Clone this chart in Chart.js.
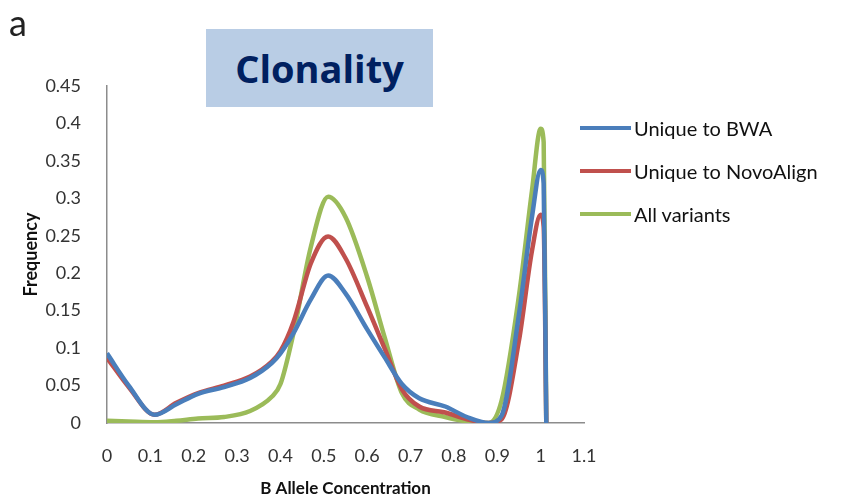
<!DOCTYPE html>
<html lang="en">
<head>
  <meta charset="UTF-8">
  <title>Clonality</title>
  <script src="https://cdn.jsdelivr.net/npm/chart.js"></script>
  <style>
    body {
      margin: 0;
      width: 844px;
      height: 503px;
      background: #fff;
      font-family: Lato, "Open Sans", sans-serif;
      position: relative;
      overflow: hidden;
    }

    #chartBox {
      position: absolute;
      left: 0;
      top: 0;
      width: 844px;
      height: 503px;
    }

    .panel-letter {
      position: absolute;
      left: 9px;
      top: 0px;
      font-size: 36px;
      color: #222;
    }

    .title-box {
      position: absolute;
      left: 206px;
      top: 29px;
      width: 227px;
      height: 78px;
      background: #b9cde5;
      color: #002060;
      font-family: "Open Sans", sans-serif;
      font-weight: bold;
      font-size: 38px;
      line-height: 78px;
      text-align: center;
    }

    .legend {
      position: absolute;
      left: 580px;
      top: 106px;
    }

    .legend-item {
      display: flex;
      align-items: center;
      height: 43px;
      font-size: 20px;
      color: #111;
    }

    .legend-line {
      width: 51px;
      height: 4px;
      margin-right: 3px;
    }
  </style>
</head>
<body>
  <div id="chartBox"><canvas id="clonalityChart" width="844" height="503"></canvas></div>
  <div class="panel-letter">a</div>
  <div class="title-box">Clonality</div>
  <div class="legend" id="legend"></div>

  <script>
    // B allele concentration sample points
    const bac = [0, 0.05, 0.11, 0.16, 0.21, 0.27, 0.33, 0.38, 0.4, 0.43, 0.47, 0.51, 0.55,
      0.6, 0.64, 0.68, 0.72, 0.78, 0.83, 0.88, 0.91, 0.95, 0.98, 1.0, 1.007, 1.013];

    const bwaFreq = [0.093, 0.05, 0.011, 0.025, 0.039, 0.048, 0.06, 0.08, 0.093, 0.12, 0.165, 0.197, 0.173,
      0.125, 0.088, 0.052, 0.033, 0.022, 0.008, 0, 0.01, 0.145, 0.275, 0.338, 0.32, 0];

    const novoFreq = [0.087, 0.048, 0.011, 0.027, 0.04, 0.05, 0.062, 0.082, 0.096, 0.135, 0.213, 0.249, 0.22,
      0.155, 0.1, 0.045, 0.022, 0.014, 0.005, 0, 0.005, 0.11, 0.23, 0.278, 0.262, 0];

    const allFreq = [0.003, 0.002, 0.001, 0.003, 0.006, 0.008, 0.016, 0.035, 0.052, 0.12, 0.235, 0.302, 0.275,
      0.195, 0.115, 0.04, 0.018, 0.008, 0.002, 0, 0.03, 0.17, 0.31, 0.393, 0.375, 0];

    const seriesNames = ['Unique to BWA', 'Unique to NovoAlign', 'All variants'];
    const seriesColors = ['#4a7ebb', '#c0504d', '#9bbb59'];

    const toPoints = ys => bac.map((x, i) => ({ x: x, y: ys[i] }));
    const allSeries = [bwaFreq, novoFreq, allFreq];

    const datasets = allSeries.map((ys, i) => ({
      label: seriesNames[i],
      data: toPoints(ys),
      borderColor: seriesColors[i],
      backgroundColor: seriesColors[i],
      borderWidth: 4.5,
      pointRadius: 0,
      showLine: true,
      fill: false,
      cubicInterpolationMode: 'monotone'
    }));

    // html legend
    const legendEl = document.getElementById('legend');
    seriesNames.forEach((name, i) => {
      const item = document.createElement('div');
      item.className = 'legend-item';
      item.innerHTML = `<span class="legend-line" style="background:${seriesColors[i]}"></span>${name}`;
      legendEl.appendChild(item);
    });

    const fmt = v => String(Number(v.toFixed(2)));
    const tickFont = { family: 'Lato', size: 18 };

    new Chart(document.getElementById('clonalityChart'), {
      type: 'scatter',
      data: { datasets: datasets },
      options: {
        responsive: false,
        animation: false,
        layout: {
          padding: { left: 16, top: 86, right: 260, bottom: 0 }
        },
        plugins: {
          legend: { display: false },
          tooltip: { enabled: false }
        },
        scales: {
          x: {
            type: 'linear',
            min: 0,
            max: 1.1,
            grid: { display: false },
            border: { display: true, color: '#8c8c8c', width: 1.5 },
            ticks: {
              stepSize: 0.1,
              padding: 14,
              color: '#333',
              font: tickFont,
              callback: v => fmt(v)
            },
            title: {
              display: true,
              text: 'B Allele Concentration',
              color: '#111',
              font: { family: 'Lato', size: 17, weight: 'bold' },
              padding: { top: 12 }
            },
            afterFit: scale => { scale.height = 80; }
          },
          y: {
            type: 'linear',
            min: 0,
            max: 0.45,
            grid: { display: false },
            border: { display: true, color: '#8c8c8c', width: 1.5 },
            ticks: {
              stepSize: 0.05,
              padding: 18,
              color: '#333',
              font: tickFont,
              callback: v => fmt(v)
            },
            title: {
              display: true,
              text: 'Frequency',
              color: '#111',
              font: { family: 'Lato', size: 18, weight: 'bold' },
              padding: { bottom: 0 }
            },
            afterFit: scale => { scale.width = 91; }
          }
        }
      }
    });
  </script>
</body>
</html>
